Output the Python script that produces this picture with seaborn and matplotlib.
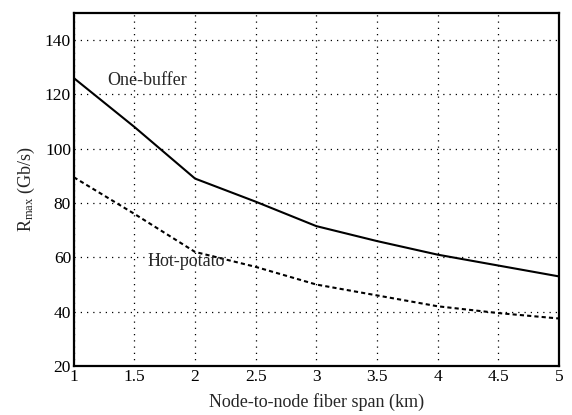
import matplotlib
matplotlib.use("Agg")
import matplotlib.pyplot as plt
import seaborn as sns
import pandas as pd

# values
span_km = [1, 1.5, 2, 2.5, 3, 3.5, 4, 4.5, 5]
one_buffer = [126, 108, 89, 80.5, 71.5, 66, 61, 57, 53]
hot_potato = [89.5, 76, 62, 56.5, 50, 46, 42, 39.5, 37.5]

x_ticks = [1, 1.5, 2, 2.5, 3, 3.5, 4, 4.5, 5]
x_tick_labels = ["1", "1.5", "2", "2.5", "3", "3.5", "4", "4.5", "5"]
y_ticks = [20, 40, 60, 80, 100, 120, 140]

df = pd.DataFrame({
    "span": span_km * 2,
    "rmax": one_buffer + hot_potato,
    "scheme": ["One-buffer"] * len(span_km) + ["Hot-potato"] * len(span_km),
})

sns.set_style("white")
plt.rcParams["font.family"] = ["Liberation Serif", "DejaVu Serif"]
plt.rcParams["mathtext.fontset"] = "custom"
plt.rcParams["mathtext.rm"] = "Liberation Serif"
plt.rcParams["mathtext.it"] = "Liberation Serif:italic"

fig = plt.figure(figsize=(5.72, 4.15), dpi=100)
ax = fig.add_axes([0.129, 0.118, 0.848, 0.851])

sns.lineplot(data=df, x="span", y="rmax", style="scheme", color="black",
             dashes={"One-buffer": "", "Hot-potato": (2, 1.5)},
             linewidth=1.5, legend=False, ax=ax)

ax.set_xlim(1, 5)
ax.set_ylim(20, 150)
ax.set_xticks(x_ticks)
ax.set_xticklabels(x_tick_labels)
ax.set_yticks(y_ticks)
ax.grid(True, color="black", linestyle=(0, (1, 4)), linewidth=0.9)
ax.tick_params(direction="in", length=4, width=1.2, labelsize=12.5,
               colors="black", pad=2)
for s in ax.spines.values():
    s.set_linewidth(1.6)
    s.set_color("black")

ax.set_xlabel("Node-to-node fiber span (km)", fontsize=13, labelpad=6)
ax.set_ylabel(r"R$_{\mathrm{max}}$ (Gb/s)", fontsize=13, labelpad=6)

ax.text(1.28, 125, "One-buffer", fontsize=13, va="center")
ax.text(1.61, 58.5, "Hot-potato", fontsize=13, va="center")

fig.savefig("out.png", dpi=100)
